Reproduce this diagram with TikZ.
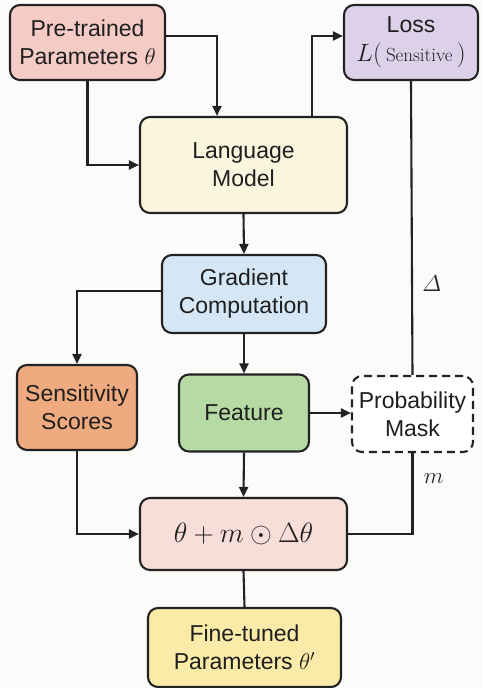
\RequirePackage{fix-cm}
\documentclass[tikz,border=0pt]{standalone}
\usepackage{amsmath}
\usepackage{fontspec}
\setsansfont{Liberation Sans}
\usetikzlibrary{arrows.meta,calc}

\definecolor{bgc}{HTML}{FBFBFA}
\definecolor{linec}{HTML}{222222}
\definecolor{pretrainc}{HTML}{F5CBC6}
\definecolor{lossc}{HTML}{DCD1E9}
\definecolor{lmc}{HTML}{FAF5DD}
\definecolor{gradc}{HTML}{D5E6F5}
\definecolor{sensc}{HTML}{EFAA7F}
\definecolor{featc}{HTML}{B6DAA4}
\definecolor{formc}{HTML}{F7DED9}
\definecolor{finec}{HTML}{FBEBA9}

\tikzset{
  blk/.style={draw=linec, line width=2.1pt, rounded corners=10pt, align=center,
    font=\sffamily\fontsize{23}{28}\selectfont, inner sep=0pt, text=black!88},
  conn/.style={draw=linec, line width=2.1pt},
  arr/.style={conn, -{Triangle[length=10pt,width=9pt]}},
  lbl/.style={font=\fontsize{23}{26}\selectfont, text=black!85}
}

\begin{document}
\begin{tikzpicture}[x=1pt,y=-1pt]
\fill[bgc] (0,0) rectangle (482,688);
\useasboundingbox (0,0) rectangle (482,688);

% blocks
\node[blk, fill=pretrainc, minimum width=155pt, minimum height=75pt] (pre) at (87.5,42.5)
  {Pre-trained\\Parameters $\theta$};
\node[blk, fill=lossc, minimum width=134pt, minimum height=75pt] (loss) at (411,42.5)
  {Loss\\[1pt]\fontsize{25}{28}\selectfont$L(\,\mbox{\rmfamily\fontsize{19}{21}\selectfont\addfontfeatures{LetterSpace=9}Sensitive}\,)$};
\node[blk, fill=lmc, minimum width=207pt, minimum height=96pt] (lm) at (243.5,165)
  {Language\\Model};
\node[blk, fill=gradc, minimum width=164pt, minimum height=78pt] (grad) at (244,294)
  {Gradient\\Computation};
\node[blk, fill=sensc, minimum width=120pt, minimum height=85pt] (sens) at (77,407.5)
  {Sensitivity\\Scores};
\node[blk, fill=featc, minimum width=130pt, minimum height=77pt] (feat) at (244,413)
  {Feature};
\node[blk, dashed, dash pattern=on 8pt off 5pt, fill=white, minimum width=121pt, minimum height=76pt] (mask) at (412.5,414)
  {Probability\\Mask};
\node[blk, fill=formc, minimum width=207pt, minimum height=72pt, font=\fontsize{28}{32}\selectfont] (form) at (243.5,534)
  {$\theta + m \odot \Delta\theta$};
\node[blk, fill=finec, minimum width=193pt, minimum height=79pt] (fine) at (244.5,647.5)
  {Fine-tuned\\Parameters $\theta'$};

% connectors
\draw[arr] (pre.east |- 0,36) -| (lm.north -| 217,0);
\draw[arr] (pre.south) |- (lm.west);
\draw[arr] (lm.north -| 312,0) |- (loss.west |- 0,36);
\draw[arr] (lm.south) -- (grad.north);
\draw[arr] (grad.west |- 0,291) -| (sens.north -| 77,0);
\draw[arr] (grad.south) -- (feat.north);
\draw[arr] (feat.east) -- (mask.west |- feat.east);
\draw[conn] (loss.south) -- node[lbl, right=6pt, pos=0.69] {$\varDelta$} (mask.north);
\draw[conn] (mask.south) |- node[lbl, right=7pt, pos=0.16] {$m$} (form.east);
\draw[arr] (sens.south) |- (form.west);
\draw[arr] (feat.south) -- (form.north);
\draw[conn] (form.south) -- (fine.north);
\end{tikzpicture}
\end{document}
